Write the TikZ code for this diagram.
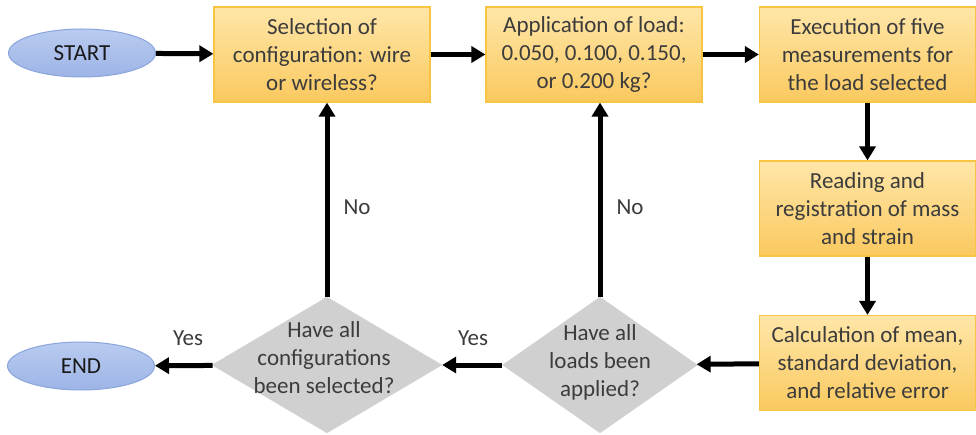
\documentclass[tikz,border=0pt]{standalone}
\usepackage{fontspec}
\setmainfont{Carlito}
\usetikzlibrary{arrows.meta,shapes.geometric}
\definecolor{boxtop}{HTML}{FFE6A8}
\definecolor{boxbot}{HTML}{FAC95F}
\definecolor{boxline}{HTML}{F7C444}
\definecolor{diafill}{HTML}{D0D0D0}
\definecolor{elltop}{HTML}{B9CBF0}
\definecolor{ellbot}{HTML}{9DB4E6}
\definecolor{ellline}{HTML}{8AA4DC}
\definecolor{txt}{HTML}{3C3C3C}
\tikzset{
  every node/.style={font=\fontsize{23}{28}\selectfont, text=txt},
  stepbox/.style={rectangle, top color=boxtop, bottom color=boxbot, draw=boxline, line width=1.2pt,
    minimum width=216pt, minimum height=95pt, align=center, inner sep=0pt},
  terminal/.style={ellipse, top color=elltop, bottom color=ellbot, draw=ellline, line width=1pt,
    minimum width=147pt, minimum height=48pt, inner sep=0pt, text=black!90},
  decision/.style={diamond, fill=diafill, draw=diafill!90!white, inner sep=0pt},
  dtext/.style={align=center, inner sep=0pt},
  flow/.style={line width=5pt, -{Triangle[length=14pt,width=16pt]}},
  lbl/.style={inner sep=0pt},
}
\begin{document}
\begin{tikzpicture}[x=1pt,y=-1pt]
\path[use as bounding box, fill=white] (0,0) rectangle (976,435);
\node[terminal] (start) at (82,53) {START};
\node[terminal] (end) at (81,366) {END};
\node[stepbox] (b1) at (322,54.5) {Selection of\\configuration: wire\\or wireless?};
\node[stepbox] (b2) at (594,54.5) {Application of load:\\0.050, 0.100, 0.150,\\or 0.200 kg?};
\node[stepbox] (b3) at (867.5,54.5) {Execution of five\\measurements for\\the load selected};
\node[stepbox] (b4) at (867.5,208.5) {Reading and\\registration of mass\\and strain};
\node[stepbox] (b5) at (867.5,363) {Calculation of mean,\\standard deviation,\\and relative error};
\node[decision, minimum width=230pt, minimum height=136pt] (d1) at (327,365) {};
\node[dtext] (d1t) at (324,358) {Have all\\configurations\\been selected?};
\node[decision, minimum width=195pt, minimum height=136pt] (d2) at (600,365) {};
\node[dtext] (d2t) at (600,362) {Have all\\loads been\\applied?};
\draw[flow] (start) -- (b1);
\draw[flow] (b1) -- (b2);
\draw[flow] (b2) -- (b3);
\draw[flow] (b3) -- (b4);
\draw[flow] (b4) -- (b5);
\draw[flow] (b5) -- (d2);
\draw[flow] (d2) -- (d1);
\draw[flow] (d1) -- (end);
\draw[flow] (d1.north) -- (d1.north |- b1.south);
\draw[flow] (d2.north) -- (d2.north |- b2.south);
\node[lbl] (no1) at (357,207) {No};
\node[lbl] (no2) at (630,207) {No};
\node[lbl] (yes1) at (188,338) {Yes};
\node[lbl] (yes2) at (473,338) {Yes};
\end{tikzpicture}
\end{document}
